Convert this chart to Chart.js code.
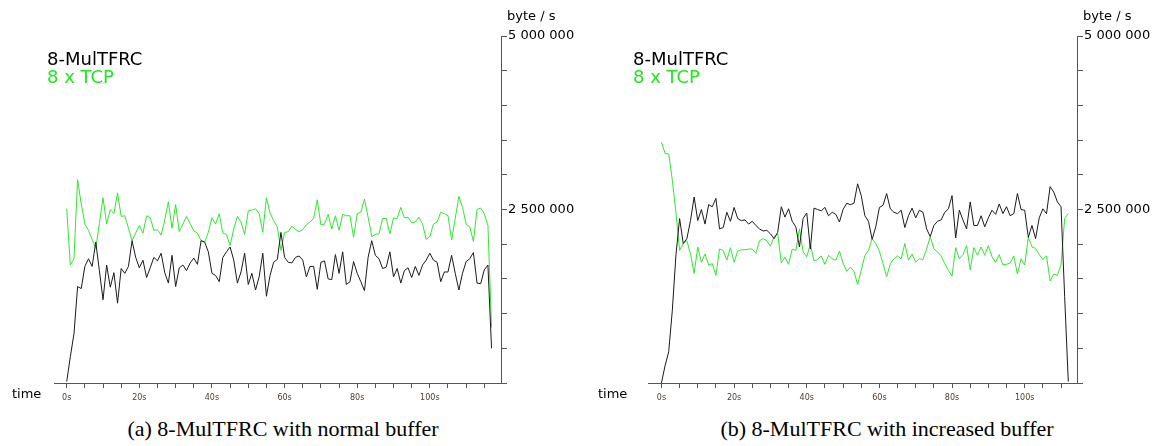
<!DOCTYPE html>
<html>
<head>
<meta charset="utf-8">
<script src="https://cdn.jsdelivr.net/npm/chart.js@4.4.1/dist/chart.umd.min.js"></script>
<style>
  body { margin: 0; background: #fff; width: 1152px; height: 446px; position: relative; overflow: hidden; font-family: 'DejaVu Sans', sans-serif; }
  canvas { position: absolute; top: 0; }
  .legend { position: absolute; top: 50px; font-size: 18px; line-height: 18px; white-space: nowrap; }
  .unit { position: absolute; top: 9px; font-size: 13px; line-height: 13px; white-space: nowrap; }
  .time { position: absolute; top: 387px; font-size: 13px; line-height: 13px; }
  .caption { position: absolute; top: 418px; width: 576px; text-align: center; font-family: 'Liberation Serif', serif; font-size: 22px; line-height: 22px; white-space: nowrap; }
</style>
</head>
<body>
<canvas id="chartA" width="576" height="410" style="left:0"></canvas>
<canvas id="chartB" width="576" height="410" style="left:576px"></canvas>

<div class="legend" style="left:47px"><div>8-MulTFRC</div><div style="color:#1ee81e">8 x TCP</div></div>
<div class="legend" style="left:633px"><div>8-MulTFRC</div><div style="color:#1ee81e">8 x TCP</div></div>
<div class="unit" style="left:507px">byte / s</div>
<div class="unit" style="left:1083px">byte / s</div>
<div class="time" style="left:12px">time</div>
<div class="time" style="left:598px">time</div>
<div class="caption" style="left:-5px">(a) 8-MulTFRC with normal buffer</div>
<div class="caption" style="left:599px">(b) 8-MulTFRC with increased buffer</div>

<script>
// throughput in millions of byte/s, one sample per second
const mulTfrcNormal = [
  0.02, 0.38, 0.71, 1.39, 1.36, 1.68, 1.79, 1.68, 2.03, 1.62,
  1.20, 1.70, 1.38, 1.59, 1.15, 1.65, 1.58, 1.68, 2.05, 1.81,
  1.66, 1.77, 1.52, 1.66, 1.81, 1.76, 1.87, 1.59, 1.44, 1.84,
  1.39, 1.66, 1.70, 1.62, 1.73, 1.80, 1.71, 2.05, 2.03, 1.89,
  1.58, 1.55, 1.46, 1.81, 1.89, 1.96, 1.77, 1.44, 1.60, 1.87,
  1.42, 1.58, 1.34, 1.53, 1.87, 1.25, 1.55, 1.74, 1.78, 2.17,
  1.81, 1.74, 1.73, 1.81, 1.83, 1.77, 1.53, 1.68, 1.68, 1.35,
  1.74, 1.76, 1.50, 1.49, 1.85, 1.58, 1.89, 1.42, 1.46, 1.75,
  1.58, 1.46, 1.33, 1.81, 2.05, 1.84, 1.79, 1.65, 1.67, 1.89,
  1.53, 1.65, 1.44, 1.62, 1.66, 1.52, 1.68, 1.55, 1.70, 1.77,
  1.87, 1.77, 1.74, 1.46, 1.60, 1.60, 1.84, 1.58, 1.34, 1.58,
  1.75, 1.79, 1.88, 1.44, 1.43, 1.63, 1.70, 0.50
];
const tcpNormal = [
  2.51, 1.70, 1.79, 2.93, 2.58, 2.29, 2.20, 2.07, 1.94, 2.30,
  2.67, 2.29, 2.50, 2.44, 2.74, 2.40, 2.41, 2.23, 2.05, 2.16,
  2.27, 2.16, 2.41, 2.38, 2.20, 2.21, 2.13, 2.35, 2.61, 2.23,
  2.57, 2.18, 2.29, 2.40, 2.30, 2.19, 2.16, 2.05, 2.03, 2.17,
  2.38, 2.29, 2.44, 2.16, 2.14, 1.98, 2.22, 2.40, 2.32, 2.14,
  2.48, 2.49, 2.51, 2.44, 2.17, 2.67, 2.45, 2.34, 2.25, 1.91,
  2.17, 2.18, 2.26, 2.21, 2.18, 2.21, 2.28, 2.32, 2.37, 2.64,
  2.28, 2.29, 2.43, 2.22, 2.41, 2.20, 2.43, 2.41, 2.41, 2.10,
  2.44, 2.46, 2.65, 2.39, 2.11, 2.14, 2.15, 2.37, 2.37, 2.15,
  2.38, 2.37, 2.53, 2.38, 2.39, 2.31, 2.32, 2.39, 2.29, 2.07,
  2.11, 2.29, 2.32, 2.46, 2.44, 2.41, 2.06, 2.37, 2.69, 2.53,
  2.29, 2.25, 2.04, 2.50, 2.52, 2.44, 2.27, 0.80
];
const mulTfrcIncreased = [
  0.00, 0.25, 0.45, 1.05, 1.85, 2.37, 2.01, 2.08, 2.34, 2.68,
  2.34, 2.50, 2.29, 2.57, 2.54, 2.66, 2.22, 2.24, 2.46, 2.33,
  2.53, 2.37, 2.34, 2.35, 2.29, 2.33, 2.27, 2.22, 2.19, 2.20,
  2.15, 2.08, 2.17, 2.54, 2.39, 2.51, 2.33, 2.25, 1.96, 2.37,
  2.45, 1.93, 2.52, 2.50, 2.48, 2.53, 2.41, 2.46, 2.43, 2.32,
  2.50, 2.59, 2.57, 2.59, 2.87, 2.70, 2.41, 2.33, 2.07, 2.25,
  2.53, 2.56, 2.73, 2.51, 2.46, 2.44, 2.49, 2.24, 2.41, 2.52,
  2.38, 2.49, 2.46, 2.22, 2.11, 2.27, 2.33, 2.35, 2.46, 2.51,
  2.70, 2.09, 2.49, 2.35, 2.22, 2.61, 2.27, 2.27, 2.41, 2.25,
  2.38, 2.49, 2.43, 2.58, 2.44, 2.54, 2.41, 2.44, 2.73, 2.50,
  2.49, 2.10, 2.27, 2.08, 2.38, 2.51, 2.44, 2.83, 2.75, 2.61,
  2.54, 1.25, 0.02
];
const tcpIncreased = [
  3.47, 3.31, 3.30, 2.92, 2.45, 1.91, 2.01, 2.05, 1.86, 1.58,
  1.96, 1.74, 1.86, 1.70, 1.72, 1.55, 1.93, 1.91, 1.77, 1.95,
  1.74, 1.90, 1.92, 1.92, 1.93, 1.93, 1.87, 2.05, 2.08, 2.05,
  1.97, 2.11, 2.15, 1.73, 1.81, 1.71, 1.93, 1.91, 2.22, 1.89,
  1.82, 2.00, 1.76, 1.78, 1.83, 1.71, 1.84, 1.79, 1.77, 1.90,
  1.73, 1.61, 1.67, 1.61, 1.42, 1.62, 1.84, 1.91, 2.08, 2.01,
  1.90, 1.72, 1.53, 1.72, 1.79, 1.83, 1.79, 2.01, 1.77, 1.86,
  1.74, 1.79, 1.78, 1.93, 2.11, 1.93, 1.89, 1.83, 1.72, 1.62,
  1.54, 1.95, 1.79, 1.85, 1.98, 1.63, 1.95, 1.84, 1.96, 1.84,
  1.98, 1.82, 1.74, 1.85, 1.70, 1.71, 1.73, 1.83, 1.57, 1.79,
  1.70, 2.10, 1.96, 1.94, 1.85, 1.78, 1.83, 1.47, 1.57, 1.55,
  1.70, 2.37, 2.44
];

const xTickLabels = ['0s', '20s', '40s', '60s', '80s', '100s'];
const yTickValues = [2.5, 5];
const yTickLabels = ['2 500 000', '5 000 000'];

function toPoints(values) {
  return values.map((v, i) => ({ x: i, y: v }));
}

function makeChart(id, mulTfrc, tcp, xMin, xMax, padLeft) {
  const axisColor = '#555';
  return new Chart(document.getElementById(id), {
    type: 'line',
    data: {
      datasets: [
        { label: '8-MulTFRC', data: toPoints(mulTfrc), borderColor: '#1a1a1a', borderWidth: 1, pointRadius: 0, tension: 0 },
        { label: '8 x TCP', data: toPoints(tcp), borderColor: '#2ee82e', borderWidth: 1, pointRadius: 0, tension: 0 }
      ]
    },
    options: {
      responsive: false,
      animation: false,
      events: [],
      layout: { padding: { left: padLeft, top: 36, right: 0, bottom: 0 } },
      plugins: { legend: { display: false }, tooltip: { enabled: false } },
      scales: {
        x: {
          type: 'linear',
          min: xMin,
          max: xMax,
          afterFit: (s) => { s.height = 27; },
          border: { display: true, color: axisColor, width: 1 },
          grid: { drawOnChartArea: false, drawTicks: true, tickLength: 5, color: axisColor },
          ticks: {
            stepSize: 5,
            includeBounds: false,
            autoSkip: false,
            maxRotation: 0,
            padding: 5,
            color: '#4a3d30',
            font: { family: 'DejaVu Sans', size: 8 },
            callback: (v) => (v % 20 === 0 && v >= 0) ? xTickLabels[v / 20] : ''
          }
        },
        y: {
          position: 'right',
          min: 0,
          max: 5,
          afterFit: (s) => { s.width = 75; },
          border: { display: true, color: axisColor, width: 1 },
          grid: { drawOnChartArea: false, drawTicks: true, tickLength: 6, color: axisColor },
          ticks: {
            stepSize: 0.5,
            autoSkip: false,
            padding: 1,
            color: '#000',
            font: { family: 'DejaVu Sans', size: 13 },
            callback: (v) => {
              const k = yTickValues.indexOf(v);
              return k >= 0 ? yTickLabels[k] : '';
            }
          }
        }
      }
    }
  });
}

makeChart('chartA', mulTfrcNormal, tcpNormal, -3.5, 119.6, 54);
makeChart('chartB', mulTfrcIncreased, tcpIncreased, -3.7, 114.4, 72);
</script>
</body>
</html>
